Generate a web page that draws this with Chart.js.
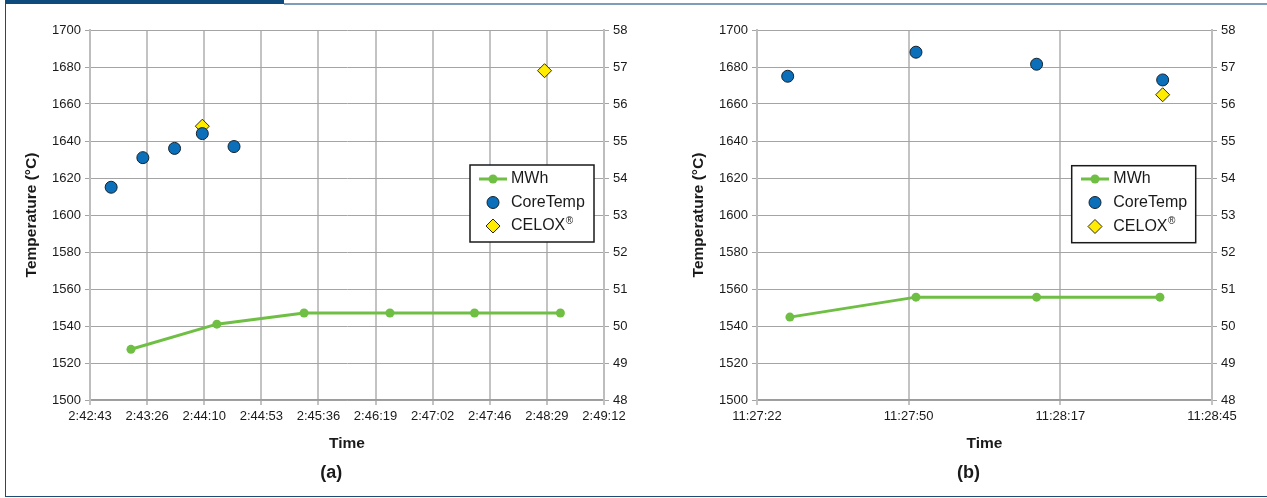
<!DOCTYPE html>
<html><head><meta charset="utf-8">
<script src="https://cdn.jsdelivr.net/npm/chart.js@4.4.1/dist/chart.umd.min.js"></script>
<style>
html,body{margin:0;padding:0;background:#fff;}
body{width:1267px;height:498px;position:relative;overflow:hidden;}
canvas{position:absolute;top:0;}
.f{position:absolute;}
</style></head><body>
<div class="f" style="left:5px;top:0;width:279px;height:4px;background:#0f4a7c"></div>
<div class="f" style="left:284px;top:3px;width:983px;height:2px;background:#7f9dbb"></div>
<div class="f" style="left:5px;top:0;width:1px;height:497px;background:#1d4b73"></div>
<div class="f" style="left:5px;top:496px;width:1262px;height:1px;background:#1d4b73"></div>
<canvas id="ca" width="640" height="498" style="left:0"></canvas>
<canvas id="cb" width="627" height="498" style="left:640px"></canvas>
<script>
// ---- data: panel (a) ----
const leftTickLabels = ['2:42:43','2:43:26','2:44:10','2:44:53','2:45:36','2:46:19','2:47:02','2:47:46','2:48:29','2:49:12'];
const leftMwhTimes   = ['2:43:14','2:44:19','2:45:25','2:46:30','2:47:34','2:48:39'];
const leftMwh        = [49.37, 50.05, 50.35, 50.35, 50.35, 50.35];
const leftCoreTimes  = ['2:42:59','2:43:23','2:43:47','2:44:08','2:44:32'];
const leftCore       = [1615, 1631, 1636, 1644, 1637];
const leftCeloxTimes = ['2:44:08','2:48:27'];
const leftCelox      = [1648, 1678];
// ---- data: panel (b) ----
const rightTickLabels = ['11:27:22','11:27:50','11:28:17','11:28:45'];
const rightMwhTimes   = ['11:27:28','11:27:51','11:28:13','11:28:35.5'];
const rightMwh        = [50.24, 50.78, 50.78, 50.78];
const rightCoreTimes  = ['11:27:27.6','11:27:51','11:28:13','11:28:36'];
const rightCore       = [1675, 1688, 1681.5, 1673];
const rightCeloxTimes = ['11:28:36'];
const rightCelox      = [1665];
// ---- labels ----
const seriesNames = ['MWh','CoreTemp','CELOX\u00AE'];
const tempTicks = {min:1500, max:1700, step:20};
const mwhTicks  = {min:48, max:58, step:1};

function sec(t){ const p=t.split(':').map(Number); return p[0]*3600+p[1]*60+p[2]; }
function pts(times, vals){ return times.map((t,i)=>({x:sec(t), y:vals[i]})); }

const FONT = "'Liberation Sans', Arial, Helvetica, sans-serif";
const TXT = '#1a1a1a';
const GREEN = '#6fbf44', BLUE = '#0b6fba', YEL = '#ffec00';

const boxLegend = {
  id: 'boxLegend',
  afterDraw(chart, args, o) {
    const ctx = chart.ctx;
    ctx.save();
    ctx.fillStyle = '#fff';
    ctx.fillRect(o.x, o.y, o.w, o.h);
    ctx.lineWidth = 1.5; ctx.strokeStyle = '#1a1a1a';
    ctx.strokeRect(o.x, o.y, o.w, o.h);
    ctx.textBaseline = 'middle'; ctx.textAlign = 'left';
    chart.data.datasets.forEach((ds, i) => {
      const cy = o.rows[i], cx = o.sx;
      if (ds.showLine) {
        ctx.strokeStyle = ds.borderColor; ctx.lineWidth = ds.borderWidth;
        ctx.beginPath(); ctx.moveTo(cx-14, cy); ctx.lineTo(cx+14, cy); ctx.stroke();
        ctx.fillStyle = ds.pointBackgroundColor;
        ctx.beginPath(); ctx.arc(cx, cy, ds.pointRadius, 0, Math.PI*2); ctx.fill();
      } else if (ds.pointStyle === 'rectRot') {
        const r = ds.pointRadius;
        ctx.beginPath(); ctx.moveTo(cx, cy-r); ctx.lineTo(cx+r, cy); ctx.lineTo(cx, cy+r); ctx.lineTo(cx-r, cy); ctx.closePath();
        ctx.fillStyle = ds.backgroundColor; ctx.fill();
        ctx.lineWidth = ds.borderWidth; ctx.strokeStyle = ds.borderColor; ctx.stroke();
      } else {
        ctx.beginPath(); ctx.arc(cx, cy, ds.pointRadius, 0, Math.PI*2);
        ctx.fillStyle = ds.backgroundColor; ctx.fill();
        ctx.lineWidth = ds.borderWidth; ctx.strokeStyle = ds.borderColor; ctx.stroke();
      }
      ctx.fillStyle = TXT; ctx.font = '16px ' + FONT;
      const label = ds.label;
      const sup = label.endsWith('\u00AE');
      const main = sup ? label.slice(0, -1) : label;
      ctx.fillText(main, o.tx, cy);
      if (sup) {
        const w = ctx.measureText(main).width;
        ctx.font = '10px ' + FONT;
        ctx.fillText('\u00AE', o.tx + w + 0.5, cy - 5);
      }
    });
    ctx.restore();
  }
};

function makeChart(id, cfg) {
  const ticks = cfg.tickLabels;
  const min = sec(ticks[0]), max = sec(ticks[ticks.length-1]);
  const titleFont = {family: FONT, size: 15.5, weight: 'bold'};
  return new Chart(document.getElementById(id), {
    type: 'scatter',
    plugins: [boxLegend],
    data: { datasets: [
      { label: seriesNames[0], data: pts(cfg.mwhT, cfg.mwh), yAxisID: 'y1', showLine: true,
        borderColor: GREEN, backgroundColor: GREEN, borderWidth: 3,
        pointRadius: 4.5, pointBorderWidth: 0, pointBackgroundColor: GREEN, order: 2 },
      { label: seriesNames[1], data: pts(cfg.coreT, cfg.core), yAxisID: 'y',
        pointRadius: 6, backgroundColor: BLUE, borderColor: '#15222e', borderWidth: 1, order: 0 },
      { label: seriesNames[2], data: pts(cfg.celoxT, cfg.celox), yAxisID: 'y', pointStyle: 'rectRot',
        pointRadius: 7, backgroundColor: YEL, borderColor: '#2a2a2a', borderWidth: 1, order: 1 }
    ]},
    options: {
      responsive: false, animation: false, devicePixelRatio: 1, events: [],
      layout: { padding: { left: cfg.padL, right: cfg.padR, top: 30, bottom: 13.9 } },
      plugins: {
        legend: { display: false }, tooltip: { enabled: false },
        title: { display: true, position: 'bottom', text: cfg.panel, color: TXT,
          font: {family: FONT, size: 18, weight: 'bold'}, padding: {top: 9.9, bottom: 0} },
        boxLegend: cfg.legend
      },
      scales: {
        x: {
          type: 'linear', min: min, max: max,
          afterBuildTicks: ax => { ax.ticks = ticks.map((t,i) => ({value: min + i*(max-min)/(ticks.length-1)})); },
          afterFit: ax => { ax.height = 52.6; },
          ticks: { autoSkip: false, maxRotation: 0, minRotation: 0, padding: 4, color: TXT,
            font: {family: FONT, size: 13}, callback: (v, i) => ticks[i] },
          grid: { color: '#c3c3c3', lineWidth: 2, tickLength: 5 },
          border: { color: '#9c9c9c', width: 1.5 },
          title: { display: true, text: 'Time', color: TXT, font: titleFont, padding: 0 }
        },
        y: {
          position: 'left', min: tempTicks.min, max: tempTicks.max,
          afterFit: ax => { ax.width = cfg.yW; },
          ticks: { stepSize: tempTicks.step, padding: 4, color: TXT, font: {family: FONT, size: 13},
            callback: v => String(v) },
          grid: { color: '#a4a4a4', lineWidth: 1, tickLength: 5 },
          border: { color: '#bdbdbd', width: 2 },
          title: { display: true, text: 'Temperature (\u00B0C)', color: TXT, font: titleFont, padding: 0 }
        },
        y1: {
          position: 'right', min: mwhTicks.min, max: mwhTicks.max,
          afterFit: ax => { ax.width = 36; },
          ticks: { stepSize: mwhTicks.step, padding: 4, color: TXT, font: {family: FONT, size: 13},
            callback: v => String(v) },
          grid: { drawOnChartArea: false, color: '#a4a4a4', tickLength: 5 },
          border: { color: '#bdbdbd', width: 2 }
        }
      }
    }
  });
}

makeChart('ca', {
  tickLabels: leftTickLabels, mwhT: leftMwhTimes, mwh: leftMwh, coreT: leftCoreTimes, core: leftCore,
  celoxT: leftCeloxTimes, celox: leftCelox, panel: '(a)', padL: 22.4, padR: 0, yW: 67.6,
  legend: { x: 470, y: 165, w: 124, h: 77, sx: 493, tx: 511, rows: [179, 202.5, 226] }
});
makeChart('cb', {
  tickLabels: rightTickLabels, mwhT: rightMwhTimes, mwh: rightMwh, coreT: rightCoreTimes, core: rightCore,
  celoxT: rightCeloxTimes, celox: rightCelox, panel: '(b)', padL: 49, padR: 19, yW: 68,
  legend: { x: 431.7, y: 165.7, w: 124, h: 77, sx: 455, tx: 473.3, rows: [179, 202.5, 226.5] }
});
</script>
</body></html>
